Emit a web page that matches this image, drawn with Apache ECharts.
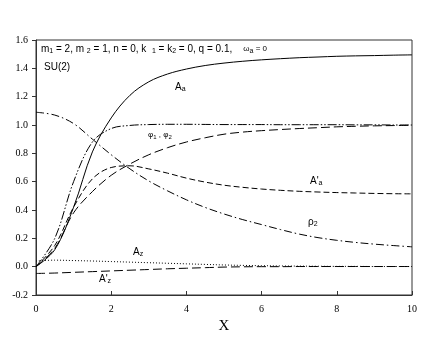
<!DOCTYPE html>
<html>
<head>
<meta charset="utf-8">
<script src="https://cdn.jsdelivr.net/npm/echarts@6/dist/echarts.min.js"></script>
<style>
  html, body { margin: 0; padding: 0; background: #fff; }
  #chart { width: 432px; height: 339px; }
</style>
</head>
<body>
<div id="chart"></div>
<script>
  // x positions shared by every curve (step 0.5)
  var xs = [0, 0.5, 1, 1.5, 2, 2.5, 3, 3.5, 4, 4.5, 5, 5.5, 6, 6.5, 7, 7.5, 8, 8.5, 9, 9.5, 10];

  var aA   = [0, 0.12, 0.42, 0.81, 1.05, 1.21, 1.305, 1.36, 1.395, 1.42, 1.437, 1.45, 1.46, 1.468, 1.475, 1.48, 1.485, 1.488, 1.49, 1.493, 1.495];
  var phi1 = [0, 0.2, 0.6, 0.88, 0.975, 0.997, 1.003, 1.005, 1.005, 1.004, 1.003, 1.003, 1.003, 1.002, 1.002, 1.002, 1.002, 1.001, 1.001, 1.0, 1.0];
  var phi2 = [0, 0.13, 0.38, 0.53, 0.645, 0.725, 0.79, 0.84, 0.88, 0.91, 0.935, 0.95, 0.96, 0.968, 0.975, 0.981, 0.987, 0.991, 0.994, 0.996, 0.998];
  var aAp  = [0, 0.15, 0.42, 0.62, 0.70, 0.712, 0.69, 0.66, 0.625, 0.597, 0.575, 0.56, 0.548, 0.539, 0.532, 0.527, 0.523, 0.52, 0.517, 0.515, 0.514];
  var rho2 = [1.09, 1.07, 1.01, 0.9, 0.79, 0.69, 0.605, 0.535, 0.472, 0.418, 0.372, 0.332, 0.297, 0.262, 0.23, 0.205, 0.186, 0.171, 0.159, 0.149, 0.14];
  var aZ   = [0.04, 0.046, 0.043, 0.04, 0.036, 0.032, 0.028, 0.024, 0.02, 0.016, 0.012, 0.009, 0.007, 0.005, 0.004, 0.003, 0.002, 0.002, 0.001, 0.001, 0.001];
  var aZp  = [-0.048, -0.045, -0.04, -0.035, -0.03, -0.025, -0.02, -0.015, -0.011, -0.007, -0.003, -0.001, 0, 0, 0.001, 0.001, 0.001, 0.001, 0.001, 0.001, 0.001];

  function pairs(ys) {
    var out = [];
    for (var i = 0; i < xs.length; i++) {
      out.push([xs[i], ys[i]]);
    }
    return out;
  }

  function curve(name, ys, dash) {
    return {
      name: name,
      type: 'line',
      data: pairs(ys),
      smooth: 0.35,
      symbol: 'none',
      silent: true,
      lineStyle: { color: '#000', width: 1, type: dash }
    };
  }

  var sans = 'Liberation Sans, Arial, sans-serif';
  var sub = { fontFamily: sans, fontSize: 7, padding: [5, 0, 0, 0] };

  function label(x, y, text) {
    return {
      type: 'text', left: x, top: y,
      style: { text: text, fill: '#000', font: '10px ' + sans, rich: { s: sub } }
    };
  }

  var chart = echarts.init(document.getElementById('chart'));
  chart.setOption({
    animation: false,
    grid: { left: 36, right: 20, top: 40, bottom: 44, show: true, borderColor: '#333', borderWidth: 1 },
    xAxis: {
      type: 'value', min: 0, max: 10, interval: 2,
      name: 'X', nameLocation: 'middle', nameGap: 24,
      nameTextStyle: { fontFamily: 'Liberation Serif', fontSize: 15, color: '#000' },
      axisLine: { onZero: false, lineStyle: { color: '#333' } },
      axisTick: { inside: true, length: 4, lineStyle: { color: '#333' } },
      axisLabel: { fontFamily: 'Liberation Serif', fontSize: 10, color: '#000', margin: 9 },
      splitLine: { show: false }
    },
    yAxis: {
      type: 'value', min: -0.2, max: 1.6, interval: 0.2,
      axisLine: { show: true, onZero: false, lineStyle: { color: '#333' } },
      axisTick: { show: true, length: 4, lineStyle: { color: '#333' } },
      axisLabel: {
        fontFamily: 'Liberation Serif', fontSize: 10, color: '#000', margin: 8,
        formatter: function (v) { return v.toFixed(1); }
      },
      splitLine: { show: false }
    },
    series: [
      curve('A_a', aA, 'solid'),
      curve('phi1', phi1, [9, 2, 1.5, 2, 1.5, 2]),
      curve('phi2', phi2, [9, 4]),
      curve("A'_a", aAp, [6, 3]),
      curve('rho2', rho2, [8, 3, 1.5, 3]),
      curve('A_z', aZ, [1, 2]),
      curve("A'_z", aZp, [9, 4])
    ],
    graphic: [
      {
        type: 'text', left: 41, top: 44,
        style: {
          text: 'm{s|1} = 2, m {s|2} = 1, n = 0, k  {s|1} = k{s|2} = 0, q = 0.1,    {w|ω}{s|a}{w| = 0}',
          fill: '#000', font: '10px ' + sans,
          rich: { s: sub, w: { fontFamily: sans, fontSize: 8 } }
        }
      },
      label(44, 62, 'SU(2)'),
      label(175, 82, 'A{s|a}'),
      {
        type: 'text', left: 148, top: 131,
        style: {
          text: 'φ{s|1} , φ{s|2}', fill: '#000', font: '8px ' + sans,
          rich: { s: { fontFamily: sans, fontSize: 6, padding: [4, 0, 0, 0] } }
        }
      },
      label(310, 176, "A'{s|a}"),
      label(308, 217, 'ρ{s|2}'),
      label(133, 247, 'A{s|z}'),
      label(99, 274, "A'{s|z}")
    ]
  });
</script>
</body>
</html>
